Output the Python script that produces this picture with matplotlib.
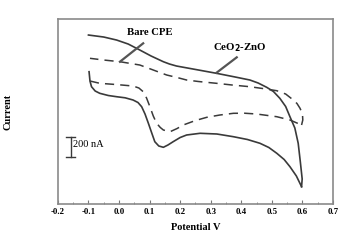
import matplotlib.pyplot as plt
import numpy as np

# CeO2-ZnO (solid), forward sweep then reverse sweep, current in nA (arbitrary offset)
ceo_fwd_v = [-0.098, -0.095, -0.09, -0.078, -0.063, -0.035, -0.008, 0.02, 0.046, 0.062, 0.074, 0.085, 0.096, 0.107,
             0.117, 0.13, 0.145, 0.16, 0.177, 0.2, 0.221, 0.265, 0.32, 0.374, 0.42, 0.461, 0.49, 0.516, 0.54, 0.559,
             0.58, 0.597]
ceo_fwd_i = [1323, 1230, 1173, 1130, 1107, 1085, 1073, 1062, 1040, 1015, 973, 900, 807, 710,
             623, 580, 567, 590, 623, 665, 690, 707, 700, 673, 645, 607, 565, 507, 445, 373,
             280, 173]
ceo_rev_v = [0.597, 0.599, 0.597, 0.593, 0.586, 0.575, 0.559, 0.545, 0.526, 0.505, 0.483, 0.455, 0.428, 0.38,
             0.319, 0.26, 0.188, 0.165, 0.145, 0.105, 0.068, 0.03, -0.008, -0.05, -0.1]
ceo_rev_i = [173, 250, 307, 420, 607, 760, 873, 975, 1057, 1125, 1167, 1210, 1240, 1270,
             1307, 1340, 1380, 1400, 1423, 1480, 1540, 1600, 1640, 1670, 1690]

# Bare CPE (dashed)
cpe_fwd_v = [-0.095, -0.063, -0.01, 0.046, 0.065, 0.079, 0.09, 0.101, 0.112, 0.123, 0.135, 0.145, 0.167, 0.19,
             0.21, 0.25, 0.287, 0.33, 0.374, 0.41, 0.45, 0.516, 0.559, 0.597]
cpe_fwd_i = [1230, 1207, 1195, 1180, 1160, 1123, 1060, 973, 880, 807, 765, 740, 723, 755,
             790, 835, 867, 890, 907, 908, 900, 873, 840, 790]
cpe_rev_v = [0.597, 0.601, 0.6, 0.592, 0.582, 0.57, 0.545, 0.516, 0.47, 0.428, 0.37, 0.319, 0.26, 0.221,
             0.19, 0.156, 0.112, 0.068, 0.003, -0.05, -0.095]
cpe_rev_i = [790, 840, 900, 957, 1005, 1040, 1100, 1133, 1155, 1173, 1190, 1207, 1225, 1240,
             1265, 1290, 1340, 1390, 1423, 1440, 1457]

xticks = [-0.2, -0.1, 0.0, 0.1, 0.2, 0.3, 0.4, 0.5, 0.6, 0.7]

plt.rcParams['font.family'] = ['Liberation Serif', 'DejaVu Serif']
plt.rcParams['font.weight'] = 'bold'

fig = plt.figure(figsize=(3.64, 2.44), dpi=100)
ax = fig.add_axes([0.159, 0.164, 0.756, 0.758])

lc = '#3a3a3a'
ax.plot(ceo_fwd_v, ceo_fwd_i, color=lc, lw=1.2)
ax.plot(ceo_rev_v, ceo_rev_i, color=lc, lw=1.2)
ax.plot(cpe_fwd_v, cpe_fwd_i, color=lc, lw=1.1, ls=(0, (6, 4)))
ax.plot(cpe_rev_v, cpe_rev_i, color=lc, lw=1.1, ls=(0, (6, 4)))

# leader lines and labels
ax.plot([0.079, 0.003], [1607, 1423], color='#555555', lw=1.6)
ax.text(0.099, 1712, 'Bare CPE', ha='center', va='center', fontsize=7.7, fontweight='bold')
ax.plot([0.385, 0.319], [1467, 1313], color='#555555', lw=1.6)
ax.text(0.396, 1565, 'CeO$_2$-ZnO', ha='center', va='center', fontsize=7.8, fontweight='bold')

# 200 nA scale bar
ax.plot([-0.158, -0.158], [470, 670], color=lc, lw=1.0)
ax.plot([-0.172, -0.144], [670, 670], color=lc, lw=1.0)
ax.plot([-0.172, -0.144], [470, 470], color=lc, lw=1.0)
ax.text(-0.15, 590, '200 nA', ha='left', va='center', fontsize=7.5, fontweight='normal')

ax.set_xlim(-0.2, 0.7)
ax.set_ylim(0, 1850)
ax.set_xticks(xticks)
ax.set_xticklabels(['%.1f' % t for t in xticks])
ax.set_xticks(np.arange(-0.15, 0.7, 0.1), minor=True)
ax.set_yticks([])
ax.tick_params(axis='x', which='major', direction='in', length=3, labelsize=6.3, pad=3, color='#777777')
ax.tick_params(axis='x', which='minor', direction='in', length=1.5, color='#777777')
for s in ax.spines.values():
    s.set_color('#8a8a8a')
    s.set_linewidth(1.2)

ax.set_xlabel('Potential V', fontsize=7.5, fontweight='bold', labelpad=5)
ax.set_ylabel('Current', fontsize=7.5, fontweight='bold')
ax.yaxis.set_label_coords(-0.165, 0.5)

fig.savefig('out.png', dpi=100)
